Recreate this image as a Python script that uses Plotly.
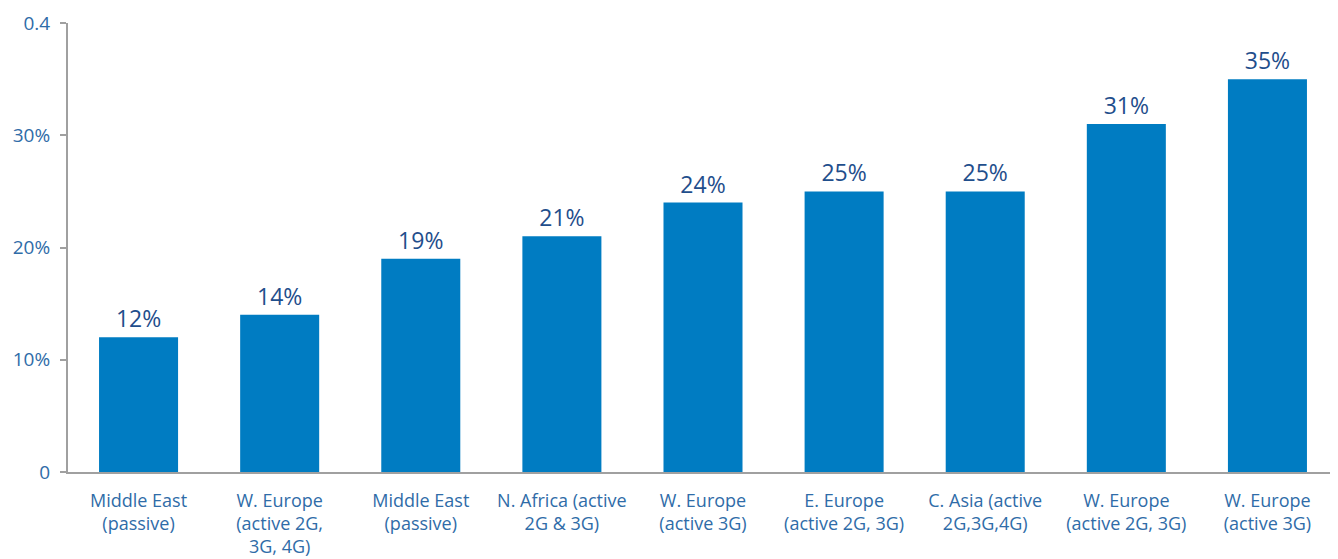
import plotly.graph_objects as go

categories = [
    "Middle East<br>(passive)",
    "W. Europe<br>(active 2G,<br>3G, 4G)",
    "Middle East<br>(passive)",
    "N. Africa (active<br>2G & 3G)",
    "W. Europe<br>(active 3G)",
    "E. Europe<br>(active 2G, 3G)",
    "C. Asia (active<br>2G,3G,4G)",
    "W. Europe<br>(active 2G, 3G)",
    "W. Europe<br>(active 3G)",
]
values = [0.12, 0.14, 0.19, 0.21, 0.24, 0.25, 0.25, 0.31, 0.35]
value_labels = ["12%", "14%", "19%", "21%", "24%", "25%", "25%", "31%", "35%"]
y_tickvals = [0, 0.1, 0.2, 0.3, 0.4]
y_ticktext = ["0", "10%", "20%", "30%", "0.4"]

x_idx = list(range(len(categories)))

fig = go.Figure(go.Bar(
    x=x_idx,
    y=values,
    text=value_labels,
    textposition="outside",
    textfont=dict(size=23, color="#1F4E8C"),
    marker=dict(color="#007CC2", line=dict(width=0)),
    cliponaxis=False,
    hoverinfo="skip",
))

# The page body has an 8px margin, so the figure is sized to fit the window.
fig.update_layout(
    width=1330, height=551,
    margin=dict(l=60, r=0, t=15, b=87, autoexpand=False),
    paper_bgcolor="white", plot_bgcolor="white",
    font=dict(family="Open Sans, Liberation Sans, Arial, sans-serif", color="#2F6CA8", size=18),
    bargap=0.44,
    showlegend=False,
)
fig.update_xaxes(
    tickvals=x_idx, ticktext=categories,
    range=[-0.5, len(categories) - 0.5],
    showline=True, linecolor="#A0A0A0", linewidth=2,
    ticks="", showgrid=False, zeroline=False,
    tickfont=dict(size=18, color="#2F6CA8"),
    ticklabelstandoff=11,
    automargin=False,
)
fig.update_yaxes(
    range=[0, 0.4],
    tickvals=y_tickvals, ticktext=y_ticktext,
    showline=True, linecolor="#A0A0A0", linewidth=2,
    ticks="outside", ticklen=6, tickcolor="#A0A0A0", tickwidth=2,
    showgrid=False, zeroline=False,
    tickfont=dict(size=19, color="#2F6CA8"),
    ticklabelstandoff=6,
    automargin=False,
)

fig.write_html("out.html")
